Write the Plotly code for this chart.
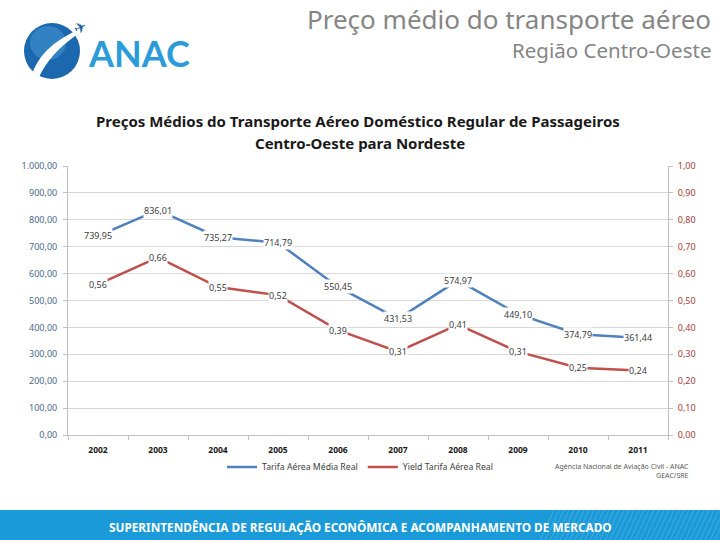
import plotly.graph_objects as go

years = ["2002", "2003", "2004", "2005", "2006", "2007", "2008", "2009", "2010", "2011"]
tarifa = [739.95, 836.01, 735.27, 714.79, 550.45, 431.53, 574.97, 449.10, 374.79, 361.44]
yield_ = [0.56, 0.66, 0.55, 0.52, 0.39, 0.31, 0.41, 0.31, 0.25, 0.24]

BLUE = "#4f81bd"
RED = "#c0504d"

L, R, T, B = 68, 52, 166, 105
PW, PH = 720 - L - R, 540 - T - B


def px(x):
    return (x - L) / PW


def py(y):
    return (540 - B - y) / PH


def br(v):
    return f"{v:.2f}".replace(".", ",")


fig = go.Figure()
fig.add_trace(go.Scatter(x=years, y=tarifa, mode="lines", name="Tarifa Aérea Média Real",
                         line=dict(color=BLUE, width=2.5), yaxis="y"))
fig.add_trace(go.Scatter(x=years, y=yield_, mode="lines", name="Yield Tarifa Aérea Real",
                         line=dict(color=RED, width=2.5), yaxis="y2"))

ann = []
for i, v in enumerate(tarifa):
    ann.append(dict(x=i, y=v, xref="x", yref="y", text=br(v), showarrow=False,
                    bgcolor="white", borderpad=0,
                    font=dict(family="Noto Sans", size=9, color="#404040")))
for i, v in enumerate(yield_):
    ann.append(dict(x=i, y=v, xref="x", yref="y2", text=br(v), showarrow=False,
                    bgcolor="white", borderpad=0,
                    font=dict(family="Noto Sans", size=9, color="#404040")))


def pann(x, y, text, size, color, family="Noto Sans", xanchor="center", **kw):
    return dict(x=px(x), y=py(y), xref="paper", yref="paper", showarrow=False,
                xanchor=xanchor, yanchor="middle", text=text,
                font=dict(family=family, size=size, color=color), **kw)


# chart title
ann.append(pann(358, 121, "<b>Preços Médios do Transporte Aéreo Doméstico Regular de Passageiros</b>",
                15, "#1a1a1a"))
ann.append(pann(360, 143, "<b>Centro-Oeste para Nordeste</b>", 15, "#1a1a1a"))
# top-right headings
ann.append(pann(713, 19, "Preço médio do transporte aéreo", 26, "#858585", xanchor="right"))
ann.append(pann(713, 50, "Região Centro-Oeste", 20.5, "#858585", xanchor="right"))
# source
ann.append(pann(691, 471, "Agência Nacional de Aviação Civil - ANAC<br>GEAC/SRE", 7, "#595959",
                xanchor="right", align="right"))
# footer text
ann.append(pann(360, 527, "<b>SUPERINTENDÊNCIA DE REGULAÇÃO ECONÔMICA E ACOMPANHAMENTO DE MERCADO</b>",
                11.8, "white"))
# logo
ann.append(pann(86, 53, "<b>ANAC</b>", 36, "#2b9cd8", family="Lato", xanchor="left"))
ann.append(pann(80, 28, "✈", 15, "#1d5f9f", family="DejaVu Sans", textangle=-25))

shapes = []
# footer band
shapes.append(dict(type="rect", xref="paper", yref="paper", x0=px(0), x1=px(720),
                   y0=py(541), y1=py(510), fillcolor="#1a9ad8", line=dict(width=0), layer="below"))
for k in range(40):
    x0 = 540 + k * 5
    shapes.append(dict(type="line", xref="paper", yref="paper", x0=px(x0), y0=py(540),
                       x1=px(x0 + 14), y1=py(510), line=dict(color="rgba(255,255,255,0.18)", width=1)))
# globe
shapes.append(dict(type="circle", xref="paper", yref="paper", x0=px(24), x1=px(80),
                   y0=py(79), y1=py(23), fillcolor="#1b68ae", line=dict(width=0)))
shapes.append(dict(type="circle", xref="paper", yref="paper", x0=px(30), x1=px(66),
                   y0=py(60), y1=py(26), fillcolor="rgba(80,160,220,0.45)", line=dict(width=0)))


def pt(x, y):
    return f"{px(x)},{py(y)}"


swoosh = (f"M {pt(31,77)} Q {pt(40,46)} {pt(80,29)} L {pt(81,32)} "
          f"Q {pt(50,52)} {pt(38,79)} Z")
shapes.append(dict(type="path", xref="paper", yref="paper", path=swoosh,
                   fillcolor="white", line=dict(width=0)))

fig.update_layout(
    width=720, height=540,
    margin=dict(l=L, r=R, t=T, b=B),
    paper_bgcolor="white", plot_bgcolor="white",
    separators=",.",
    showlegend=True,
    legend=dict(orientation="h", x=px(360), xanchor="center", y=py(467), yanchor="middle",
                font=dict(family="Noto Sans", size=8.7, color="#404040"),
                itemwidth=30, bgcolor="rgba(0,0,0,0)"),
    xaxis=dict(type="category", range=[-0.5, 9.5], showline=True, linecolor="#bfbfbf",
               ticks="outside", tickson="boundaries", ticklen=4, tickcolor="#bfbfbf",
               ticklabelstandoff=7,
               showgrid=False, tickfont=dict(family="Noto Sans", size=8.5, color="#1a1a1a"),
               tickprefix="<b>", ticksuffix="</b>"),
    yaxis=dict(range=[0, 1000], dtick=100, tickformat=",.2f", showline=True,
               linecolor="#bfbfbf", ticks="outside", ticklen=4, tickcolor="#bfbfbf",
               ticklabelstandoff=4,
               gridcolor="#d9d9d9", zeroline=False,
               tickfont=dict(family="Noto Sans", size=9, color="#4a6a8c")),
    yaxis2=dict(range=[0, 1], dtick=0.1, tickformat=".2f", overlaying="y", side="right",
                showline=True, linecolor="#bfbfbf", ticks="outside", ticklen=4,
                tickcolor="#bfbfbf", showgrid=False, zeroline=False, ticklabelstandoff=3,
                tickfont=dict(family="Noto Sans", size=9, color="#a33b38")),
    annotations=ann,
    shapes=shapes,
)

fig.write_html("out.html", config={"displayModeBar": False},
               post_script="document.body.style.margin='0';")
